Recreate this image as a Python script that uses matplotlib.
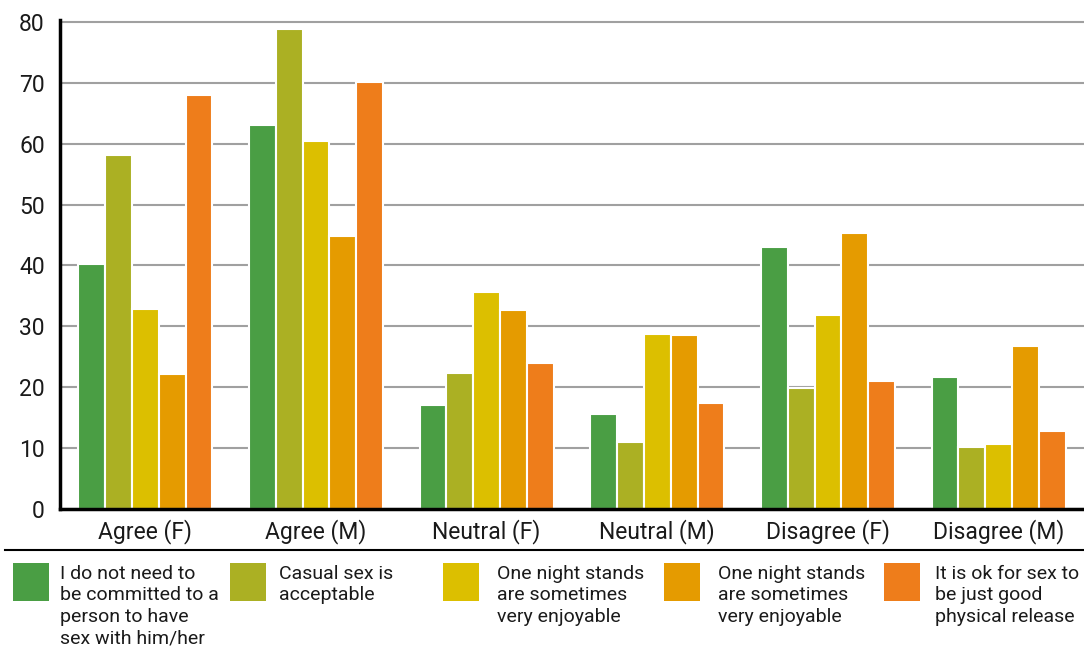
import numpy as np
import matplotlib.pyplot as plt
from matplotlib.patches import Rectangle
from matplotlib.lines import Line2D

categories = ['Agree (F)', 'Agree (M)', 'Neutral (F)', 'Neutral (M)', 'Disagree (F)', 'Disagree (M)']
series_names = ['I do not need to\nbe committed to a\nperson to have\nsex with him/her',
                'Casual sex is\nacceptable',
                'One night stands\nare sometimes\nvery enjoyable',
                'One night stands\nare sometimes\nvery enjoyable',
                'It is ok for sex to\nbe just good\nphysical release']
not_committed = [40.3, 63.0, 17.0, 15.6, 43.0, 21.6]
casual_ok = [58.1, 78.8, 22.4, 11.0, 19.8, 10.2]
ons_enjoy_a = [32.8, 60.4, 35.7, 28.8, 31.8, 10.7]
ons_enjoy_b = [22.2, 44.9, 32.6, 28.6, 45.4, 26.8]
physical = [68.0, 70.1, 23.9, 17.4, 21.1, 12.8]
series = [not_committed, casual_ok, ons_enjoy_a, ons_enjoy_b, physical]
colors = ['#4a9e44', '#abb023', '#dcbf00', '#e59b00', '#ee7d1b']

plt.rcParams['font.family'] = ['Roboto', 'DejaVu Sans']

fig = plt.figure(figsize=(10.84, 6.55), dpi=100)
ax = fig.add_axes([60/1084, 146/655, 1024/1084, 489/655])

x = np.arange(len(categories))
w = 0.785 / 5
for i, vals in enumerate(series):
    ax.bar(x + (i - 2) * w, vals, w, color=colors[i], edgecolor='white', linewidth=1.5, zorder=3)

ax.set_xlim(-0.5, 5.5)
ax.set_ylim(0, 80.3)
ax.set_yticks(range(0, 81, 10))
ax.set_xticks(x)
ax.set_xticklabels(categories, fontsize=16.5, color='#1a1a1a')
ax.tick_params(axis='y', labelsize=16.5, labelcolor='#1a1a1a', length=0, pad=11)
ax.tick_params(axis='x', length=0, pad=7)
ax.grid(axis='y', color='#a0a0a0', linewidth=1.5, zorder=0)
for s in ['top', 'right']:
    ax.spines[s].set_visible(False)
ax.spines['left'].set_linewidth(2.5)
ax.spines['bottom'].set_linewidth(2.5)
ax.spines['left'].set_zorder(5)
ax.spines['bottom'].set_zorder(5)

# separator line above legend
fig.add_artist(Line2D([5/1084, 1], [1 - 550/655, 1 - 550/655], color='black', linewidth=1.5))

# legend drawn by hand
sq_x = [13, 230, 443, 664, 884]
tx_x = [60, 279, 497, 718, 935]
for i in range(5):
    fig.add_artist(Rectangle((sq_x[i]/1084, 1 - 601/655), 36/1084, 38/655,
                             facecolor=colors[i], edgecolor='none'))
    fig.text(tx_x[i]/1084, 1 - 565/655, series_names[i], fontsize=14,
             va='top', ha='left', linespacing=1.25, color='#1a1a1a')

fig.savefig('out.png', dpi=100)
